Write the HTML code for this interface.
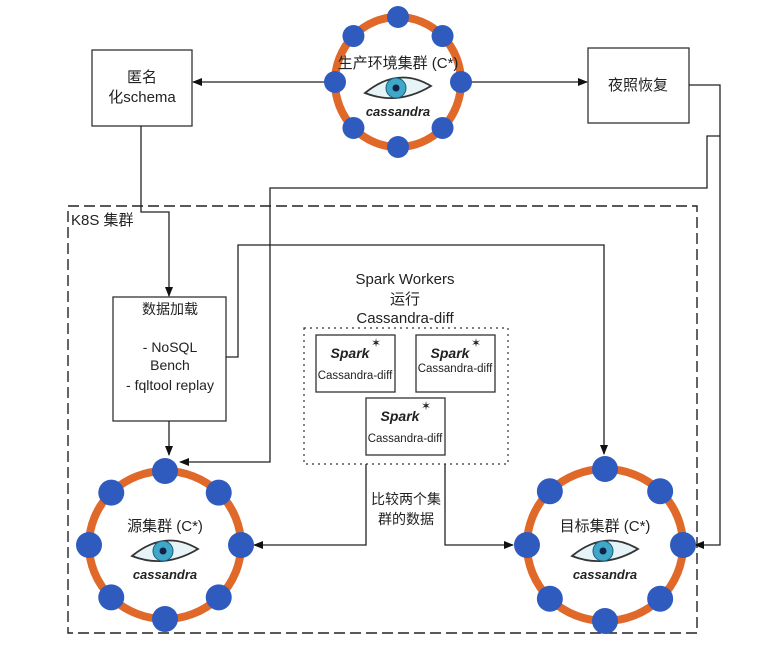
<!DOCTYPE html>
<html><head><meta charset="utf-8"><style>
html,body{margin:0;padding:0;background:#fff;}
svg text{font-family:"Liberation Sans","Noto Sans CJK SC",sans-serif;fill:#222;}
</style></head><body>
<svg id="s" width="762" height="657" viewBox="0 0 762 657" xmlns="http://www.w3.org/2000/svg">
<defs>
<marker id="a" markerWidth="10" markerHeight="8" refX="9" refY="4" orient="auto" markerUnits="userSpaceOnUse"><path d="M0,0 L10,4 L0,8 z" fill="#111"/></marker>
</defs>
<rect width="762" height="657" fill="#fff"/>
<rect x="68" y="206" width="629" height="427" fill="none" stroke="#222" stroke-width="1.4" stroke-dasharray="11,5"/>
<text x="71" y="225" font-size="15">K8S  集群</text>
<rect x="92" y="50" width="100" height="76" fill="#fff" stroke="#333" stroke-width="1.3"/>
<text x="142" y="82" font-size="15" text-anchor="middle">匿名</text>
<text x="142" y="102" font-size="15" text-anchor="middle">化schema</text>
<rect x="588" y="48" width="101" height="75" fill="#fff" stroke="#333" stroke-width="1.3"/>
<text x="638" y="90" font-size="15" text-anchor="middle">夜照恢复</text>
<rect x="113" y="297" width="113" height="124" fill="#fff" stroke="#333" stroke-width="1.3"/>
<text x="170" y="314" font-size="14" text-anchor="middle">数据加载</text>
<text x="170" y="352" font-size="14" text-anchor="middle">- NoSQL</text>
<text x="170" y="370" font-size="14" text-anchor="middle">Bench</text>
<text x="170" y="390" font-size="14" text-anchor="middle">- fqltool replay</text>
<text x="405" y="284" font-size="15" text-anchor="middle">Spark Workers</text>
<text x="405" y="304" font-size="15" text-anchor="middle">运行</text>
<text x="405" y="323" font-size="15" text-anchor="middle">Cassandra-diff</text>
<rect x="304" y="328" width="204" height="136" fill="none" stroke="#333" stroke-width="1.2" stroke-dasharray="2,4"/>
<g id="sp"></g>
<g fill="none" stroke="#222" stroke-width="1.3">
<path d="M336,82 L193,82" marker-end="url(#a)"/>
<path d="M461,82 L587,82" marker-end="url(#a)"/>
<path d="M141,126 V212 H169 V296" marker-end="url(#a)"/>
<path d="M169,421 V455" marker-end="url(#a)"/>
<path d="M689,85 H720 V545 H695" marker-end="url(#a)"/>
<path d="M720,136 H707 V188 H270 V462 H180" marker-end="url(#a)"/>
<path d="M226,357 H238 V245 H604 V454" marker-end="url(#a)"/>
<path d="M366,464 V545 H254" marker-end="url(#a)"/>
<path d="M445,464 V545 H513" marker-end="url(#a)"/>
</g>
<text x="406" y="504" font-size="14" text-anchor="middle">比较两个集</text>
<text x="406" y="524" font-size="14" text-anchor="middle">群的数据</text>
<g id="cl"></g>
</svg>
<script>
var NS="http://www.w3.org/2000/svg";
function el(p,t,a,txt){var e=document.createElementNS(NS,t);for(var k in a)e.setAttribute(k,a[k]);if(txt)e.textContent=txt;p.appendChild(e);return e;}
var cl=document.getElementById('cl');
function cluster(cx,cy,rx,ry,nr,label,fs){
 el(cl,'ellipse',{cx:cx,cy:cy,rx:rx,ry:ry,fill:'#fff',stroke:'#e0692a','stroke-width':8});
 for(var i=0;i<8;i++){var t=i*Math.PI/4-Math.PI/2;el(cl,'circle',{cx:cx+rx*Math.cos(t),cy:cy+ry*Math.sin(t),r:nr,fill:'#2f5bbf'});}
 el(cl,'text',{x:cx,y:cy-14,'font-size':fs,'text-anchor':'middle'},label);
 var g=el(cl,'g',{});
 el(g,'path',{d:'M'+(cx-33)+','+(cy+11)+' Q'+cx+','+(cy-16)+' '+(cx+33)+','+(cy+4)+' Q'+cx+','+(cy+24)+' '+(cx-33)+','+(cy+11)+'z',fill:'#e6f4f8',stroke:'#333','stroke-width':1.8});
 el(g,'circle',{cx:cx-2,cy:cy+6,r:10,fill:'#3fa7c9',stroke:'#1c5d78','stroke-width':1});
 el(g,'circle',{cx:cx-2,cy:cy+6,r:3.5,fill:'#124'});
 el(cl,'text',{x:cx,y:cy+34,'font-size':13,'text-anchor':'middle','font-style':'italic','font-weight':'bold'},'cassandra');
}
cluster(398,82,63,65,11,'生产环境集群 (C*)',15);
cluster(165,545,76,74,13,'源集群 (C*)',15);
cluster(605,545,78,76,13,'目标集群 (C*)',15);
var sp=document.getElementById('sp');
[[316,335],[416,335],[366,398]].forEach(function(p,i){
 el(sp,'rect',{x:p[0],y:p[1],width:79,height:57,fill:'#fff',stroke:'#333','stroke-width':1.3});
 el(sp,'text',{x:p[0]+34,y:p[1]+23,'font-size':14,'text-anchor':'middle','font-style':'italic','font-weight':'bold',fill:'#444'},'Spark');
 el(sp,'text',{x:p[0]+55,y:p[1]+12,'font-size':12,fill:'#e25a1c'},'✶');
 el(sp,'text',{x:p[0]+39,y:p[1]+(i==1?37:44),'font-size':11.5,'text-anchor':'middle'},'Cassandra-diff');
});
</script>
</body></html>
